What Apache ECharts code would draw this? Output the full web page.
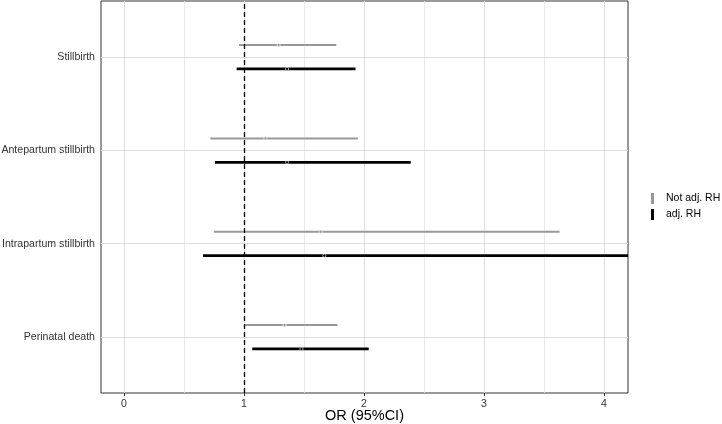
<!DOCTYPE html>
<html>
<head>
<meta charset="utf-8">
<script src="https://cdn.jsdelivr.net/npm/echarts@6/dist/echarts.min.js"></script>
<style>html,body{margin:0;padding:0;background:#fff}#c{width:722px;height:424px}</style>
</head>
<body>
<div id="c"></div>
<script>
var categories = ['Stillbirth', 'Antepartum stillbirth', 'Intrapartum stillbirth', 'Perinatal death'];
var xTicks = [0, 1, 2, 3, 4];
var xMinorGrid = [0.5, 1.5, 2.5, 3.5];
var seriesNames = ['Not adj. RH', 'adj. RH'];
var notAdjOR = [1.29, 1.18, 1.64, 1.34];
var notAdjLo = [0.96, 0.72, 0.75, 1.00];
var notAdjHi = [1.77, 1.95, 3.63, 1.78];
var adjOR = [1.36, 1.36, 1.67, 1.48];
var adjLo = [0.94, 0.76, 0.66, 1.07];
var adjHi = [1.93, 2.39, 4.45, 2.04];
var refLine = 1;

var FONT = '"Liberation Sans", Arial, Helvetica, sans-serif';
var n = categories.length;
function yPos(i) { return n - i; }
var dodge = 0.128;

function build(lo, hi, or, off) {
  return categories.map(function (c, i) { return [lo[i], hi[i], or[i], yPos(i) + off]; });
}

function renderer(color, width) {
  return function (params, api) {
    var a = api.coord([api.value(0), api.value(3)]);
    var b = api.coord([api.value(1), api.value(3)]);
    var p = api.coord([api.value(2), api.value(3)]);
    var cs = params.coordSys;
    return {
      type: 'group',
      clipPath: { type: 'rect', shape: { x: cs.x, y: cs.y, width: cs.width, height: cs.height } },
      children: [
        { type: 'line', shape: { x1: a[0], y1: a[1], x2: b[0], y2: b[1] }, style: { stroke: color, lineWidth: width } },
        { type: 'circle', shape: { cx: p[0], cy: p[1], r: 1.6 }, style: { fill: color, stroke: '#ffffff', lineWidth: 0.6 } }
      ]
    };
  };
}

var gridLines = [];
xTicks.forEach(function (v) { gridLines.push({ xAxis: v, lineStyle: { color: '#dedede', width: 1, type: 'solid' } }); });
xMinorGrid.forEach(function (v) { gridLines.push({ xAxis: v, lineStyle: { color: '#e6e6e6', width: 0.8, type: 'solid' } }); });
categories.forEach(function (c, i) { gridLines.push({ yAxis: yPos(i), lineStyle: { color: '#dedede', width: 1, type: 'solid' } }); });

var chart = echarts.init(document.getElementById('c'), null, { renderer: 'canvas' });
chart.setOption({
  animation: false,
  backgroundColor: '#ffffff',
  textStyle: { fontFamily: FONT },
  grid: { left: 101, right: 94, top: 1, bottom: 31, show: true, borderColor: '#333333', borderWidth: 1,
    backgroundColor: 'transparent', containLabel: false, outerBoundsMode: 'none' },
  legend: {
    orient: 'vertical', left: 646, top: 188, itemGap: 5,
    itemWidth: 3, itemHeight: 11, icon: 'rect',
    textStyle: { fontSize: 10.5, color: '#000', fontFamily: FONT, padding: [0, 0, 0, 7] },
    data: seriesNames
  },
  xAxis: {
    type: 'value', min: -0.19, max: 4.2,
    splitLine: { show: false },
    axisLine: { show: false },
    axisTick: { show: true, length: 3, customValues: xTicks, lineStyle: { color: '#333333' } },
    axisLabel: { customValues: xTicks, fontSize: 10.5, color: '#333333', margin: 6, fontFamily: FONT },
    name: 'OR (95%CI)', nameLocation: 'middle', nameGap: 15, nameMoveOverlap: false,
    nameTextStyle: { fontSize: 14.5, color: '#000', fontFamily: FONT, verticalAlign: 'top' }
  },
  yAxis: {
    type: 'value', min: 0.4, max: 4.6,
    splitLine: { show: false },
    axisLine: { show: false },
    axisTick: { show: true, length: 3, customValues: categories.map(function (c, i) { return yPos(i); }), lineStyle: { color: '#333333' } },
    axisLabel: {
      customValues: categories.map(function (c, i) { return yPos(i); }),
      formatter: function (v) { var i = n - Math.round(v); return categories[i] || ''; },
      fontSize: 10.6, color: '#333333', margin: 6, fontFamily: FONT
    }
  },
  series: [
    {
      type: 'line', data: [], silent: true, z: 1,
      markLine: { silent: true, symbol: 'none', label: { show: false }, animation: false, z: 1, data: gridLines }
    },
    {
      name: seriesNames[0], type: 'custom', renderItem: renderer('#999999', 2),
      itemStyle: { color: '#999999' },
      encode: { x: [0, 1, 2], y: 3 },
      data: build(notAdjLo, notAdjHi, notAdjOR, dodge), z: 3, clip: true
    },
    {
      name: seriesNames[1], type: 'custom', renderItem: renderer('#000000', 2.8),
      itemStyle: { color: '#000000' },
      encode: { x: [0, 1, 2], y: 3 },
      data: build(adjLo, adjHi, adjOR, -dodge), z: 3, clip: true
    },
    {
      type: 'line', data: [], silent: true, z: 5,
      markLine: { silent: true, symbol: 'none', label: { show: false }, animation: false, z: 5,
        data: [{ xAxis: refLine, lineStyle: { color: '#000', width: 1.3, type: [5, 3] } }] }
    }
  ]
});
</script>
</body>
</html>
